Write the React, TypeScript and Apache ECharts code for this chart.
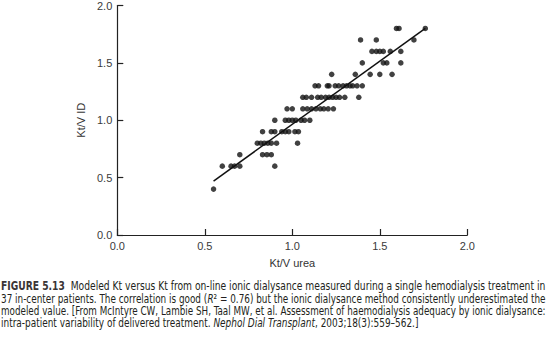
import React, { useEffect, useRef } from "react";
import * as echarts from "echarts";

// Kt/V urea values grouped by their Kt/V ID level
const idLevels = [0.4, 0.6, 0.7, 0.8, 0.9, 1.0, 1.1, 1.2, 1.3, 1.4, 1.5, 1.6, 1.7, 1.8];
const ureaAt04 = [0.55];
const ureaAt06 = [0.6, 0.65, 0.67, 0.7, 0.9];
const ureaAt07 = [0.7, 0.83, 0.855, 0.88];
const ureaAt08 = [0.8, 0.82, 0.84, 0.86, 0.88, 0.91, 1.03];
const ureaAt09 = [0.83, 0.88, 0.9, 0.94, 0.96, 0.98, 1.015, 1.035];
const ureaAt10 = [0.9, 0.96, 0.98, 1.0, 1.02, 1.05, 1.07, 1.1];
const ureaAt11 = [0.97, 1.0, 1.06, 1.085, 1.11, 1.135, 1.16, 1.18, 1.205, 1.235];
const ureaAt12 = [1.06, 1.08, 1.11, 1.145, 1.165, 1.19, 1.21, 1.23, 1.25, 1.27, 1.3, 1.38];
const ureaAt13 = [1.13, 1.15, 1.2, 1.21, 1.245, 1.265, 1.29, 1.31, 1.33, 1.345, 1.37, 1.4];
const ureaAt14 = [1.225, 1.36, 1.445, 1.5, 1.57];
const ureaAt15 = [1.4, 1.52, 1.54, 1.62];
const ureaAt16 = [1.455, 1.48, 1.5, 1.52, 1.56, 1.62];
const ureaAt17 = [1.39, 1.48, 1.695];
const ureaAt18 = [1.595, 1.61, 1.76];
const ureaGroups = [
  ureaAt04, ureaAt06, ureaAt07, ureaAt08, ureaAt09, ureaAt10, ureaAt11,
  ureaAt12, ureaAt13, ureaAt14, ureaAt15, ureaAt16, ureaAt17, ureaAt18,
];

// regression line end points
const fitUrea = [0.55, 1.76];
const fitId = [0.47, 1.8];

const xTitle = "Kt/V urea";
const yTitle = "Kt/V ID";

type Seg = { t: string; s: "n" | "b" | "i" };
const captionLines: Seg[][] = [
  [
    { t: "FIGURE 5.13", s: "b" },
    { t: "  Modeled Kt versus Kt from on-line ionic dialysance measured during a single hemodialysis treatment in", s: "n" },
  ],
  [
    { t: "37 in-center patients. The correlation is good (", s: "n" },
    { t: "R", s: "i" },
    { t: "\u00B2 = 0.76) but the ionic dialysance method consistently underestimated the", s: "n" },
  ],
  [
    { t: "modeled value. [From McIntyre CW, Lambie SH, Taal MW, et al. Assessment of haemodialysis adequacy by ionic dialysance:", s: "n" },
  ],
  [
    { t: "intra-patient variability of delivered treatment. ", s: "n" },
    { t: "Nephol Dial Transplant", s: "i" },
    { t: ", 2003;18(3):559\u2013562.]", s: "n" },
  ],
];

const CAP_FONT = "'Liberation Sans Narrow', 'DejaVu Sans Condensed', 'Liberation Sans', sans-serif";
const CAP_SIZE = 11.6;

function segFont(s: "n" | "b" | "i") {
  const w = s === "b" ? "bold " : "";
  const st = s === "i" ? "italic " : "";
  return `${st}${w}${CAP_SIZE}px ${CAP_FONT}`;
}

function measureLine(line: Seg[]) {
  const ctx = document.createElement("canvas").getContext("2d");
  if (!ctx) return 500;
  let w = 0;
  for (const seg of line) {
    ctx.font = segFont(seg.s);
    w += ctx.measureText(seg.t).width;
  }
  return w;
}

export default function App() {
  const ref = useRef<HTMLDivElement>(null);
  useEffect(() => {
    if (!ref.current) return;
    const chart = echarts.init(ref.current, undefined, { renderer: "svg" });

    const points: number[][] = [];
    ureaGroups.forEach((g, i) => g.forEach((u) => points.push([u, idLevels[i]])));

    const target = 545;
    const lineYs = [286.7, 299, 311.3, 323.5];
    const scales = captionLines.map((l) => target / measureLine(l));
    const avgScale = (scales[0] + scales[1] + scales[2]) / 3;

    const captionGraphics = captionLines.map((line, i) => ({
      type: "text",
      x: 1,
      y: lineYs[i],
      scaleX: i < 3 ? scales[i] : avgScale,
      style: {
        text: line.map((seg) => `{${seg.s}|${seg.t}}`).join(""),
        verticalAlign: "middle",
        align: "left",
        rich: {
          n: { fontSize: CAP_SIZE, fontFamily: CAP_FONT, fill: "#231f20" },
          b: { fontSize: CAP_SIZE, fontFamily: CAP_FONT, fontWeight: "bold", fill: "#3a3536" },
          i: { fontSize: CAP_SIZE, fontFamily: CAP_FONT, fontStyle: "italic", fill: "#231f20" },
        },
      },
    }));

    const axisCommon = {
      type: "value" as const,
      min: 0,
      max: 2,
      interval: 0.5,
      nameLocation: "middle" as const,
      nameTextStyle: { fontSize: 11, color: "#333", fontFamily: "'Liberation Sans', Arial, sans-serif" },
      axisLine: { show: true, lineStyle: { color: "#222", width: 1.2 } },
      axisTick: { show: true, inside: true, length: 6, lineStyle: { color: "#222", width: 1.2 } },
      splitLine: { show: false },
      axisLabel: {
        fontSize: 11,
        color: "#3a3a3a",
        fontFamily: "'Liberation Sans', Arial, sans-serif",
        formatter: (v: number) => v.toFixed(1),
      },
    };

    chart.setOption({
      animation: false,
      backgroundColor: "#fff",
      grid: { left: 117.3, right: 82.7, top: 4.7, bottom: 102, containLabel: false },
      xAxis: { ...axisCommon, name: xTitle, nameGap: 22, axisLabel: { ...axisCommon.axisLabel, margin: 5 } },
      yAxis: { ...axisCommon, name: yTitle, nameGap: 29, axisLabel: { ...axisCommon.axisLabel, margin: 5 } },
      series: [
        {
          type: "scatter",
          data: points,
          symbol: "circle",
          symbolSize: 5.5,
          itemStyle: { color: "#111" },
          z: 3,
        },
        {
          type: "line",
          data: [
            [fitUrea[0], fitId[0]],
            [fitUrea[1], fitId[1]],
          ],
          symbol: "none",
          lineStyle: { color: "#111", width: 1.5 },
          z: 4,
        },
      ],
      graphic: captionGraphics,
    });
    return () => chart.dispose();
  }, []);
  return (
    <div
      ref={ref}
      style={{ position: "fixed", left: 0, top: 0, width: 550, height: 337, background: "#fff" }}
    />
  );
}
